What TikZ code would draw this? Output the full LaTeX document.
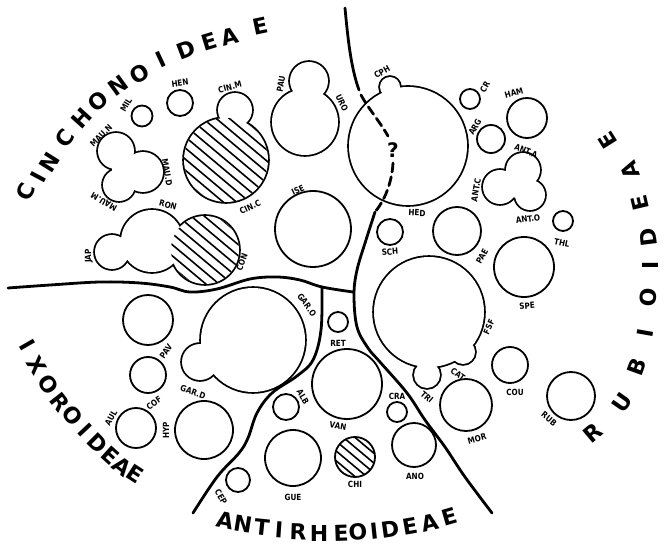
\documentclass[tikz,border=0pt]{standalone}
\usepackage{fontspec}
\setmainfont{DejaVu Sans}
\usepackage{graphicx}
\newcommand\mkblob[1]{%
  \foreach \xx/\yy/\rr in {#1} {\draw[line width=3.6pt] (\xx,\yy) circle[radius=\rr pt];}
  \foreach \xx/\yy/\rr in {#1} {\fill[white] (\xx,\yy) circle[radius=\rr pt];}
}
\newcommand\hatchc[4]{%
  \begin{scope}
    \clip (#1,#2) circle[radius=#3pt];
    \begin{scope}[shift={(#1,#2)}, rotate=-40]
      \foreach \ii in {-7,...,7} {\draw[line width=1.6pt] (-60,\ii*#4) -- (60,\ii*#4);}
    \end{scope}
  \end{scope}}
\begin{document}
\begin{tikzpicture}[x=1pt,y=-1pt,
  circ/.style={line width=1.8pt},
  bound/.style={line width=2.8pt,line cap=round,line join=round},
  lab/.style={inner sep=0pt,font=\fontsize{8.5}{8.5}\selectfont\bfseries},
  big/.style={inner sep=0pt,font=\fontsize{22}{22}\selectfont\bfseries}]
\useasboundingbox (0,0) rectangle (664,548);
\fill[white] (0,0) rectangle (664,548);

% simple circles
\foreach \xx/\yy/\rr in {180/103/13, 142/116/10.5, 313/229/38, 470/99/10, 527/118/20,
   491/139/14, 563/221/10, 390/232/13, 457/231/24, 524/267/30, 510/365/18, 466/405/26,
   571/396/24, 338/322/10, 347/384/35, 286/407/13, 397/412/10, 293/458/28, 238/480/12,
   414/445/22, 148/320/25, 148/375/18, 136/428/20, 204/430/29, 355/457/20}
  {\draw[circ] (\xx,\yy) circle[radius=\rr pt];}
\hatchc{355}{457}{20}{7.5}

% compound shapes
\mkblob{235/110/17, 226/160/42}
\hatchc{226}{160}{42}{8.5}
\mkblob{309/81/19, 305/122/33}
\mkblob{116/151/18, 143/172/20, 119/185/16, 126/170/14}
\mkblob{112/252/17, 152/241/31, 205/250/34}
\hatchc{205}{250}{34}{8.5}
\mkblob{390/87/10, 408/146/59}
\mkblob{523/170/17, 500/187/17, 530/195/15, 517/185/13}
\mkblob{253/340/52, 200/362/18}
\mkblob{429/312/55, 427/375/13, 463/352/12}

% boundaries
\draw[bound] (345,8) .. controls (348,40) and (351,68) .. (359,90);
\draw[bound, dash pattern=on 9pt off 5pt] (361,95) .. controls (368,108) and (380,122) .. (388,136);
\draw[bound, dash pattern=on 9pt off 5pt] (393,163) .. controls (392,182) and (385,200) .. (375,212);
\draw[bound] plot[smooth, tension=0.6] coordinates {(375,212) (366,240) (357,270) (354,295)
  (357,327) (368,348) (380,362) (407,393) (425,420) (445,447) (465,477) (492,513)};
\draw[bound] plot[smooth, tension=0.6] coordinates {(8,288) (50,285) (100,282) (140,283)
  (170,287) (190,292) (217,289) (250,279) (277,277) (300,280) (322,287) (353,292)};
\draw[bound] plot[smooth, tension=0.6] coordinates {(322,287) (321,330) (313,360) (297,376)
  (272,393) (257,413) (248,438) (239,453) (217,477) (193,513)};
\node[font=\fontsize{20}{20}\selectfont\bfseries, inner sep=0pt] (q) at (393,150) {?};

% small labels
\foreach \t/\xx/\yy/\a [count=\i] in {HEN/180/83/8, MIL/126/105/60, CIN.M/230/87/15,
  PAU/281/84/80, URO/342/103/-65, MAU.N/101/136/45, MAU.D/167/172/-80, MAU.M/104/202/150,
  RON/168/205/-15, JAP/89/256/90, CON/242/262/70, CIN.C/250/207/25, ISE/298/190/25,
  CPH/382/72/30, CR/485/87/60, HAM/514/93/15, ARG/475/127/60, HED/417/213/-3,
  ANT.A/526/151/-20, ANT.C/476/190/80, ANT.O/528/219/8, THL/562/243/-12, SCH/390/252/5,
  PAE/482/256/60, SPE/527/306/5, FSF/489/327/65, CAT/458/374/-35, TRI/427/397/-40,
  COU/515/392/0, MOR/477/439/15, RUB/549/419/-40, GAR.O/307/305/-55, GAR.D/193/392/-20,
  RET/338/343/0, VAN/338/426/-10, ALB/303/397/-60, CRA/397/396/0, CHI/355/484/0,
  ANO/415/476/0, GUE/293/497/0, CEP/221/497/-60, PAV/166/351/55, COF/154/403/35,
  AUL/111/418/60, HYP/166/430/90}
  {\node[lab, rotate=\a] (l\i) at (\xx,\yy) {\scalebox{0.85}[1]{\t}};}

% big curved titles
\foreach \c/\xx/\yy/\a [count=\i] in {C/26/192/65, I/38/177/62, N/50/162/58, C/65/138/54,
  H/82/118/48, O/98/101/42, N/118/86/36, O/140/74/30, I/161/60/25, D/186/50/21,
  E/209/42/17, A/230/37/14, E/260/26/12}
  {\node[big, rotate=\a] (cin\i) at (\xx,\yy) {\c};}
\foreach \c/\xx/\yy/\a [count=\i] in {I/27/345/-60, X/37/365/-58, O/48/385/-55,
  R/60/402/-52, O/73/416/-50, I/85/430/-47, D/98/443/-45, E/110/456/-42, A/122/466/-38,
  E/135/474/-33}
  {\node[big, rotate=\a] (ixo\i) at (\xx,\yy) {\c};}
\foreach \c/\xx/\yy/\a [count=\i] in {A/225/520/-12, N/243/524/-9, T/262/527/-6,
  I/279/530/-4, R/298/532/-2, H/319/533/0, E/341/533/2, O/358/532/4, I/374/531/6,
  D/390/529/8, E/410/526/10, A/430/523/13, E/450/517/16}
  {\node[big, rotate=\a] (ant\i) at (\xx,\yy) {\c};}
\foreach \c/\xx/\yy/\a [count=\i] in {R/593/433/40, U/622/403/55, B/637/367/70,
  I/645/333/80, O/648/297/85, I/650/265/90, D/648/237/97, E/640/203/103, A/630/170/110,
  E/608/140/122}
  {\node[big, rotate=\a] (rub\i) at (\xx,\yy) {\c};}
\end{tikzpicture}
\end{document}
